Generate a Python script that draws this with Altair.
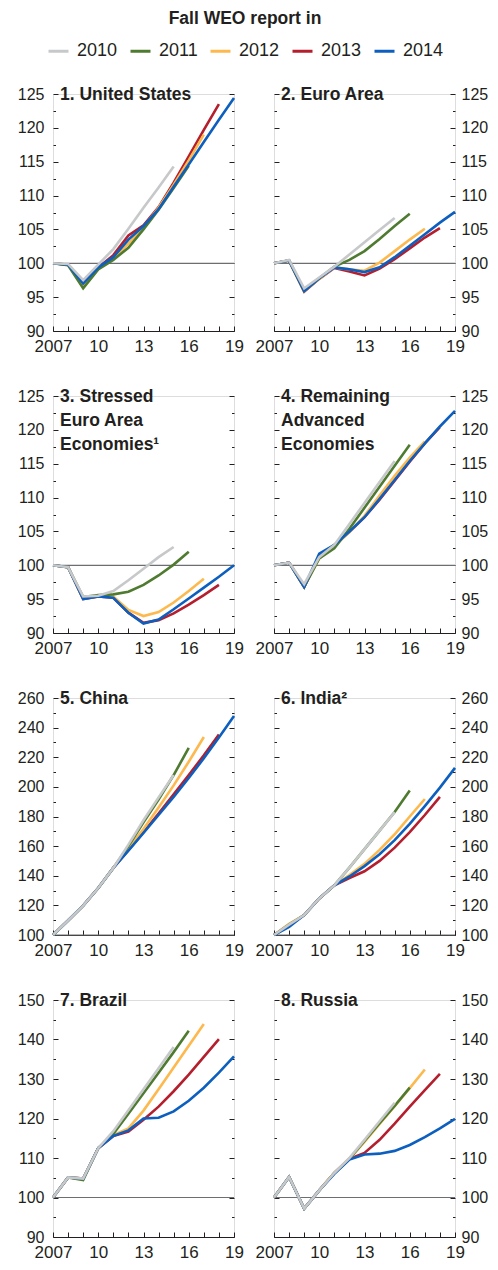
import altair as alt
import pandas as pd

# ---------------- data ----------------
YEARS = list(range(2007, 2020))
VINTAGES = ["2010", "2011", "2012", "2013", "2014"]
COLORS = ["#c7c8ca", "#4e7b2f", "#fdb94d", "#b41e2d", "#0d5fbf"]
X_LABELS = [2007, 2010, 2013, 2016, 2019]

us_2010 = [100, 99.9, 97.5, 99.8, 102.1, 105.1, 108.2, 111.2, 114.3]
us_2011 = [100, 99.7, 96.3, 99.1, 100.5, 102.3, 105.0, 107.9, 111.1, 114.4]
us_2012 = [100, 99.8, 96.7, 99.2, 100.7, 102.9, 105.3, 108.2, 111.6, 115.2, 119.0]
us_2013 = [100, 99.8, 97.0, 99.4, 101.2, 104.1, 105.6, 108.3, 111.9, 115.8, 119.7, 123.5]
us_2014 = [100, 99.8, 97.0, 99.4, 100.9, 103.5, 105.5, 108.0, 111.3, 114.6, 117.9, 121.2, 124.4]

ea_2010 = [100, 100.5, 96.3, 97.9, 99.5, 101.3, 103.1, 104.9, 106.7]
ea_2011 = [100, 100.4, 95.9, 97.8, 99.5, 100.5, 101.8, 103.6, 105.5, 107.3]
ea_2012 = [100, 100.4, 95.9, 97.7, 99.4, 99.1, 98.9, 100.1, 101.8, 103.5, 105.1]
ea_2013 = [100, 100.4, 95.8, 97.7, 99.3, 98.8, 98.2, 99.2, 100.6, 102.2, 103.8, 105.2]
ea_2014 = [100, 100.4, 95.9, 97.8, 99.4, 99.1, 98.7, 99.4, 100.9, 102.6, 104.3, 106.0, 107.6]

st_2010 = [100, 99.7, 95.4, 95.5, 96.2, 97.8, 99.5, 101.2, 102.7]
st_2011 = [100, 99.7, 95.3, 95.6, 95.7, 96.1, 97.1, 98.5, 100.1, 102.0]
st_2012 = [100, 99.7, 95.1, 95.5, 95.4, 93.4, 92.5, 93.1, 94.5, 96.2, 98.0]
st_2013 = [100, 99.7, 95.0, 95.4, 95.2, 93.0, 91.5, 91.9, 92.9, 94.2, 95.6, 97.1]
st_2014 = [100, 99.7, 95.0, 95.4, 95.2, 93.0, 91.4, 92.0, 93.5, 95.1, 96.7, 98.3, 100.0]

ra_2010 = [100, 100.4, 97.2, 101.2, 103.0, 106.1, 109.2, 112.3, 115.4]
ra_2011 = [100, 100.4, 96.8, 101.0, 102.5, 105.4, 108.5, 111.6, 114.7, 117.8]
ra_2012 = [100, 100.4, 96.8, 101.0, 102.8, 104.9, 107.3, 110.3, 113.2, 115.9, 118.3]
ra_2013 = [100, 100.4, 96.8, 101.3, 103.0, 104.9, 107.1, 109.7, 112.5, 115.3, 118.0, 120.4]
ra_2014 = [100, 100.4, 96.8, 101.7, 103.0, 105.0, 107.1, 109.8, 112.6, 115.4, 118.0, 120.5, 122.8]

cn_2010 = [100, 109.8, 119.8, 131.7, 145.3, 161.0, 177.5, 192.8, 208.0]
cn_2011 = [100, 109.8, 119.8, 131.7, 145.3, 160.0, 176.0, 191.5, 208.0, 226.3]
cn_2012 = [100, 109.8, 119.8, 131.7, 145.3, 158.5, 171.5, 186.0, 201.0, 217.0, 233.7]
cn_2013 = [100, 109.8, 119.8, 131.7, 145.3, 157.2, 169.5, 182.0, 195.0, 208.0, 221.3, 235.3]
cn_2014 = [100, 109.8, 119.8, 131.7, 145.3, 157.0, 169.0, 181.0, 193.2, 206.0, 219.3, 233.3, 247.9]

in_2010 = [100, 107.0, 113.5, 124.7, 133.5, 145.5, 158.0, 170.5, 183.0]
in_2011 = [100, 107.0, 113.5, 124.7, 133.5, 145.5, 158.0, 170.5, 183.0, 197.5]
in_2012 = [100, 107.5, 113.5, 124.7, 133.5, 140.5, 148.0, 157.5, 168.0, 180.0, 191.8]
in_2013 = [100, 106.5, 113.5, 124.7, 133.5, 138.5, 143.0, 150.0, 159.0, 169.5, 181.0, 193.3]
in_2014 = [100, 105.5, 113.5, 124.7, 133.5, 139.5, 146.5, 154.5, 164.0, 175.0, 187.0, 199.5, 212.8]

br_2010 = [100, 105.1, 104.8, 112.5, 116.8, 122.1, 127.4, 132.7, 138.1]
br_2011 = [100, 105.1, 104.4, 112.5, 116.1, 121.2, 126.4, 131.6, 136.8, 142.2]
br_2012 = [100, 105.1, 104.8, 112.5, 115.8, 117.5, 122.0, 127.4, 132.9, 138.4, 143.9]
br_2013 = [100, 105.1, 104.8, 112.5, 115.6, 116.7, 119.7, 123.0, 126.9, 131.1, 135.6, 140.1]
br_2014 = [100, 105.1, 104.8, 112.5, 115.6, 117.0, 120.0, 120.2, 121.8, 124.5, 127.8, 131.6, 135.7]

ru_2010 = [100, 105.2, 97.2, 101.8, 106.2, 110.0, 114.6, 119.3, 124.0]
ru_2011 = [100, 105.2, 97.2, 101.8, 106.2, 109.8, 114.3, 118.8, 123.2, 127.8]
ru_2012 = [100, 105.2, 97.2, 101.8, 106.2, 109.8, 114.1, 118.6, 123.1, 127.7, 132.4]
ru_2013 = [100, 105.2, 97.2, 101.8, 106.2, 109.8, 111.3, 114.6, 118.7, 123.0, 127.2, 131.3]
ru_2014 = [100, 105.2, 97.2, 101.8, 106.0, 109.6, 110.9, 111.1, 111.8, 113.3, 115.3, 117.5, 119.9]

NB = "\u00a0" * 4
PANELS = [
    dict(title=["1. United States"], s=[us_2010, us_2011, us_2012, us_2013, us_2014],
         ymin=90, ymax=125, major=5, minor=2.5, side="left"),
    dict(title=["2. Euro Area"], s=[ea_2010, ea_2011, ea_2012, ea_2013, ea_2014],
         ymin=90, ymax=125, major=5, minor=2.5, side="right"),
    dict(title=["3. Stressed", NB + "Euro Area", NB + "Economies\u00b9"],
         s=[st_2010, st_2011, st_2012, st_2013, st_2014],
         ymin=90, ymax=125, major=5, minor=2.5, side="left"),
    dict(title=["4. Remaining", NB + "Advanced", NB + "Economies"],
         s=[ra_2010, ra_2011, ra_2012, ra_2013, ra_2014],
         ymin=90, ymax=125, major=5, minor=2.5, side="right"),
    dict(title=["5. China"], s=[cn_2010, cn_2011, cn_2012, cn_2013, cn_2014],
         ymin=100, ymax=260, major=20, minor=10, side="left"),
    dict(title=["6. India\u00b2"], s=[in_2010, in_2011, in_2012, in_2013, in_2014],
         ymin=100, ymax=260, major=20, minor=10, side="right"),
    dict(title=["7. Brazil"], s=[br_2010, br_2011, br_2012, br_2013, br_2014],
         ymin=90, ymax=150, major=10, minor=5, side="left"),
    dict(title=["8. Russia"], s=[ru_2010, ru_2011, ru_2012, ru_2013, ru_2014],
         ymin=90, ymax=150, major=10, minor=5, side="right"),
]

# ---------------- style ----------------
FONT = "Liberation Sans"
INK = "#231f20"
W, H = 181, 237
DRAW_ORDER = ["2013", "2012", "2011", "2014", "2010"]
color_scale = alt.Scale(domain=VINTAGES, range=COLORS)


def frange(a, b, step):
    out, v = [], a
    while v <= b + 1e-9:
        out.append(round(v, 3))
        v += step
    return out


def long_df(series):
    rows = []
    for v in DRAW_ORDER:
        vals = series[VINTAGES.index(v)]
        for yr, val in zip(YEARS, vals):
            rows.append({"year": yr, "value": val, "vintage": v})
    return pd.DataFrame(rows)


def make_panel(i, p):
    xs = alt.Scale(domain=[2007, 2019], nice=False, zero=False)
    ys = alt.Scale(domain=[p["ymin"], p["ymax"]], nice=False, zero=False)
    majors = frange(p["ymin"], p["ymax"], p["major"])
    minors = frange(p["ymin"], p["ymax"], p["minor"])
    tsize = {"condition": {"test": f"datum.value % {p['major']} === 0", "value": 5}, "value": 2.5}
    side = p["side"]

    label_y = alt.Axis(orient=side, values=majors, format="d", ticks=False, tickSize=0,
                       domain=False, grid=False, title=None,
                       labelPadding=9 if side == "left" else 6, labelFontSize=16,
                       labelFont=FONT, labelColor=INK, labelOverlap=False)
    tick_y_left = alt.Axis(orient="right", offset=-W, values=minors, labels=False,
                           domain=False, grid=False, title=None, tickSize=tsize,
                           tickColor=INK, tickWidth=1)
    tick_y_right = alt.Axis(orient="left", offset=-W, values=minors, labels=False,
                            domain=False, grid=False, title=None, tickSize=tsize,
                            tickColor=INK, tickWidth=1)
    label_x = alt.Axis(orient="bottom", values=X_LABELS,
                       labelExpr="datum.value == 2007 ? '2007' : '' + (datum.value - 2000)",
                       ticks=False, tickSize=0, domain=True, domainColor=INK, domainWidth=1,
                       grid=False, title=None, labelPadding=7, labelFontSize=17,
                       labelFont=FONT, labelColor=INK, labelFlush=False, labelOverlap=False)
    tick_x = alt.Axis(orient="top", offset=-H, values=YEARS, labels=False, domain=False,
                      grid=False, title=None, tickSize=5, tickColor=INK, tickWidth=1)

    df = long_df(p["s"])
    if i == 0:
        legend = alt.Legend(title="Fall WEO report in", orient="none", legendX=-6, legendY=-84,
                            direction="horizontal", columns=5, symbolType="stroke",
                            symbolStrokeWidth=3, symbolSize=400, labelFontSize=18,
                            labelFont=FONT, labelColor=INK, titleFont=FONT, titleFontSize=17.5,
                            titleFontWeight="bold", titleColor=INK, titleAnchor="middle",
                            titlePadding=12, columnPadding=6, labelOffset=7, padding=0,
                            labelLimit=0)
    else:
        legend = None

    def lines(vints, xaxis, yaxis):
        return alt.Chart(df).transform_filter(
            alt.FieldOneOfPredicate(field="vintage", oneOf=vints)
        ).mark_line(strokeWidth=2.6).encode(
            x=alt.X("year:Q", scale=xs, axis=xaxis),
            y=alt.Y("value:Q", scale=ys, axis=yaxis),
            color=alt.Color("vintage:N", scale=color_scale, legend=legend),
        )

    rule = alt.Chart(pd.DataFrame({"ref": [100]})).mark_rule(
        color="#6d6e71", strokeWidth=1.2
    ).encode(y=alt.Y("ref:Q", scale=ys, axis=None))

    l1 = lines(["2013", "2012", "2011"], label_x, label_y)
    l2 = lines(["2014"], tick_x, tick_y_left)
    l3 = lines(["2010"], None, tick_y_right)

    txt = alt.Chart(pd.DataFrame({"k": [0]})).mark_text(
        align="left", baseline="top", font=FONT, fontSize=17.5, fontWeight="bold",
        color=INK, lineHeight=24
    ).encode(x=alt.value(7), y=alt.value(-8), text=alt.value(p["title"]))

    return alt.layer(rule, l1, l2, l3, txt).resolve_axis(
        x="independent", y="independent"
    ).properties(width=W, height=H)


panels = [make_panel(i, p) for i, p in enumerate(PANELS)]

chart = alt.concat(
    *panels, columns=2, spacing={"row": 65, "column": 40}, bounds="flush"
).properties(
    padding={"left": 8, "top": 2, "right": 0, "bottom": 0}
).configure_view(stroke=None).configure(font=FONT)

chart.save("out.html", embed_options={"renderer": "svg", "actions": False})
